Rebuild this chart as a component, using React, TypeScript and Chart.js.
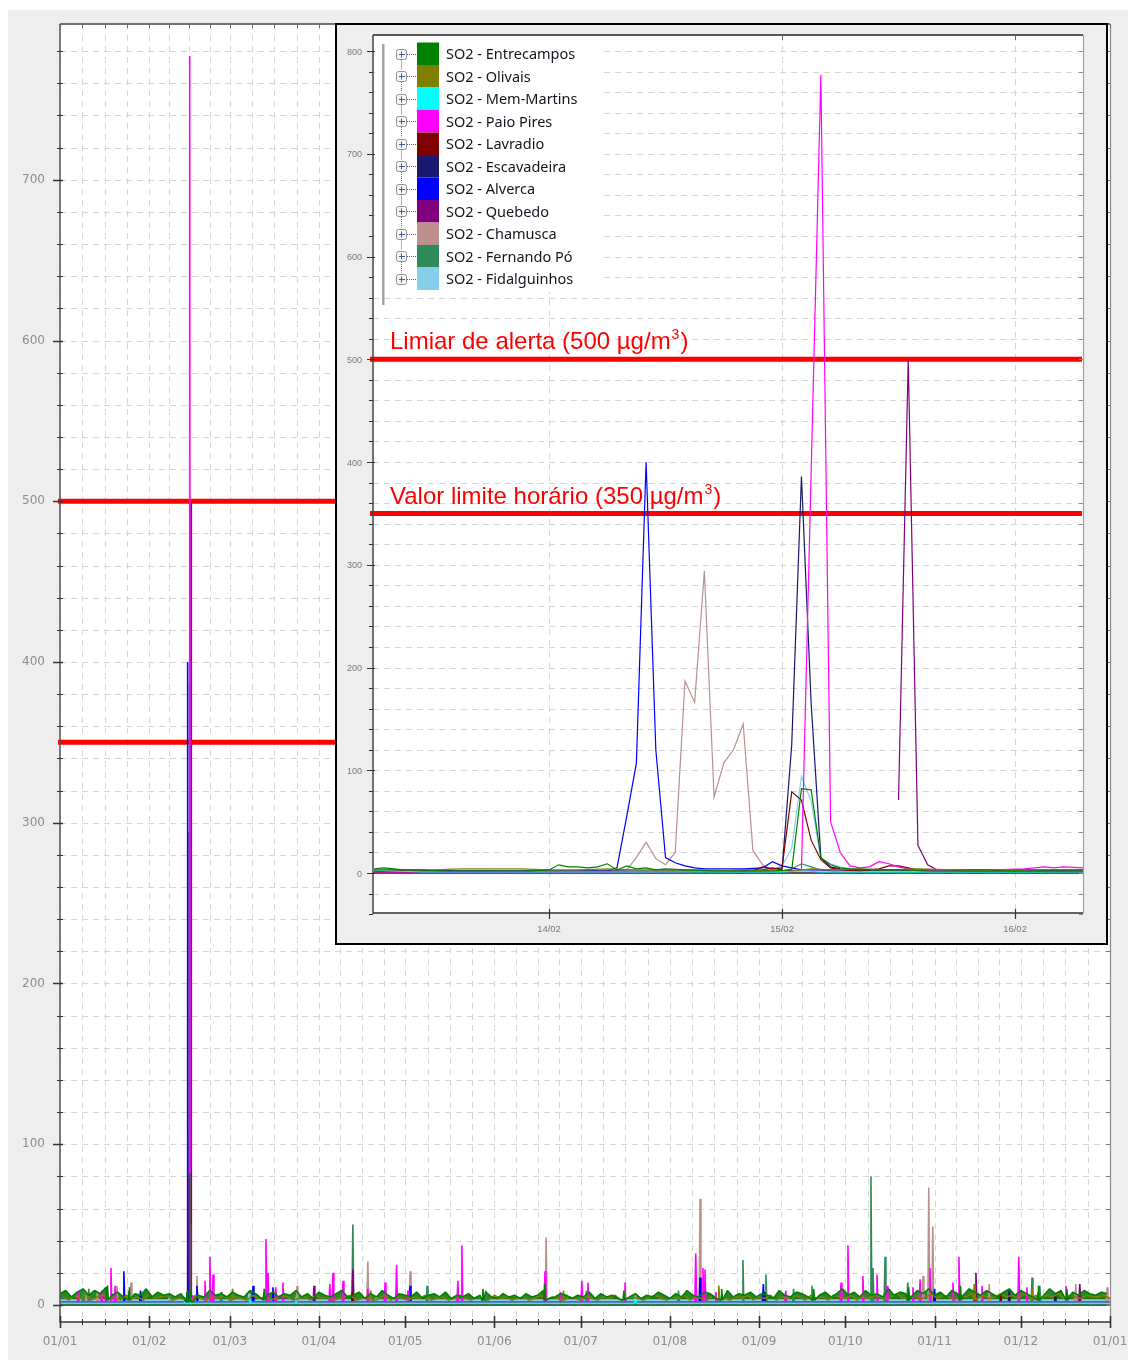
import { useEffect, useRef } from 'react';
import { Chart, registerables } from 'chart.js';

Chart.register(...registerables);

type Pt = [number, number];

// ---------------------------------------------------------------------------
// Stations
// ---------------------------------------------------------------------------
const STATION_NAMES = [
  'SO2 - Entrecampos',
  'SO2 - Olivais',
  'SO2 - Mem-Martins',
  'SO2 - Paio Pires',
  'SO2 - Lavradio',
  'SO2 - Escavadeira',
  'SO2 - Alverca',
  'SO2 - Quebedo',
  'SO2 - Chamusca',
  'SO2 - Fernando Pó',
  'SO2 - Fidalguinhos',
];
const STATION_COLORS = [
  '#008000', '#808000', '#00ffff', '#ff00ff', '#800000', '#191970',
  '#0000ff', '#800080', '#bc8f8f', '#2e8b57', '#87ceeb',
];

// ---------------------------------------------------------------------------
// Axes
// ---------------------------------------------------------------------------
// Year view: x = days since 1 January
const MONTH_START_DAYS = [0, 31, 59, 90, 120, 151, 181, 212, 243, 273, 304, 334, 365];
const MONTH_LABELS = ['01/01', '01/02', '01/03', '01/04', '01/05', '01/06', '01/07', '01/08', '01/09', '01/10', '01/11', '01/12', '01/01'];
const YEAR_Y_LABELS = [0, 100, 200, 300, 400, 500, 600, 700];

// Detail view: x = hours since 13/02 00:00
const DETAIL_FIRST_DAY = 43; // 13 February as day of year
const DAY_TICK_HOURS = [24, 48, 72];
const DAY_TICK_LABELS = ['14/02', '15/02', '16/02'];
const DETAIL_Y_LABELS = [0, 100, 200, 300, 400, 500, 600, 700, 800];

// Regulatory thresholds (µg/m³)
const ALERT_THRESHOLD = 500;
const HOURLY_LIMIT = 350;

// ---------------------------------------------------------------------------
// Hourly values, 13/02 06h – 16/02 07h  ([hour, µg/m³])
// ---------------------------------------------------------------------------
const ENTRECAMPOS_HOURLY: Pt[] = [[6, 4], [7, 5], [8, 4], [9, 3], [11, 3], [13, 2], [16, 2], [19, 2], [22, 2], [24, 3], [25, 8], [26, 6], [27, 6], [28, 5], [29, 6], [30, 9], [31, 3], [32, 7], [33, 4], [34, 5], [35, 3], [36, 4], [38, 3], [41, 2], [44, 2], [47, 2], [49, 3], [50, 82], [51, 81], [52, 15], [53, 8], [54, 5], [55, 4], [57, 3], [60, 3], [63, 2], [67, 2], [71, 2], [75, 2], [79, 2]];
const OLIVAIS_HOURLY: Pt[] = [[6, 3], [9, 3], [12, 3], [15, 4], [18, 4], [21, 4], [24, 3], [27, 3], [30, 4], [33, 3], [36, 3], [40, 3], [44, 2], [47, 3], [49, 2], [51, 4], [53, 3], [56, 4], [59, 3], [62, 4], [66, 3], [70, 2], [74, 3], [79, 3]];
const MEM_MARTINS_HOURLY: Pt[] = [[6, 3], [8, 2], [11, 1], [20, 1], [30, 1], [40, 1], [48, 1], [50, 2], [52, 1], [79, 1]];
const PAIO_PIRES_HOURLY: Pt[] = [[6, 1], [20, 1], [35, 1], [45, 2], [48, 2], [50, 3], [51, 390], [52, 777], [53, 50], [54, 20], [55, 7], [56, 5], [57, 6], [58, 11], [59, 9], [60, 6], [61, 4], [62, 3], [66, 2], [70, 3], [73, 4], [75, 6], [76, 5], [77, 6], [79, 5]];
const LAVRADIO_HOURLY: Pt[] = [[6, 1], [20, 1], [40, 1], [45, 2], [46, 6], [47, 4], [48, 5], [49, 79], [50, 71], [51, 32], [52, 13], [53, 5], [54, 3], [56, 2], [58, 4], [59, 7], [60, 7], [61, 5], [62, 3], [66, 2], [79, 1]];
const ESCAVADEIRA_HOURLY: Pt[] = [[6, 2], [20, 2], [40, 2], [46, 3], [47, 5], [48, 3], [49, 125], [50, 386], [51, 165], [52, 15], [53, 6], [54, 4], [56, 3], [60, 3], [64, 2], [79, 2]];
const ALVERCA_HOURLY: Pt[] = [[6, 3], [8, 3], [10, 2], [20, 2], [30, 2], [31, 5], [32, 55], [33, 107], [34, 400], [35, 120], [36, 15], [37, 10], [38, 7], [39, 5], [40, 4], [44, 4], [46, 5], [47, 11], [48, 7], [49, 5], [50, 3], [60, 3], [70, 3], [79, 3]];
const QUEBEDO_HOURLY: Pt[] = [[60, 71], [61, 500], [62, 27], [63, 8], [64, 3], [66, 2], [70, 2], [79, 2]];
const CHAMUSCA_HOURLY: Pt[] = [[6, 2], [20, 2], [30, 2], [32, 3], [33, 15], [34, 30], [35, 14], [36, 8], [37, 20], [38, 187], [39, 166], [40, 294], [41, 74], [42, 107], [43, 120], [44, 145], [45, 22], [46, 8], [47, 3], [49, 2], [60, 2], [79, 2]];
const FERNANDO_PO_HOURLY: Pt[] = [[6, 2], [20, 1], [40, 1], [48, 2], [49, 4], [50, 9], [51, 6], [52, 3], [54, 1], [79, 1]];
const FIDALGUINHOS_HOURLY: Pt[] = [[6, 2], [20, 2], [40, 2], [47, 3], [48, 7], [49, 24], [50, 94], [51, 70], [52, 14], [53, 9], [54, 6], [55, 4], [60, 3], [79, 2]];

// ---------------------------------------------------------------------------
// Year view: short peaks ([day of year, µg/m³]) and typical background level
// ---------------------------------------------------------------------------
const ENTRECAMPOS_YEAR_PEAKS: Pt[] = [[16.5, 12], [24, 11], [71, 10], [147, 10], [168.5, 13], [196, 9], [230, 10], [262, 10], [295, 11], [313, 12], [340, 12], [350, 10]];
const OLIVAIS_YEAR_PEAKS: Pt[] = [[60, 10], [108, 9], [175, 9], [229, 12], [318, 13], [338, 10]];
const MEM_MARTINS_YEAR_PEAKS: Pt[] = [[66, 5], [82, 5], [200, 4]];
const PAIO_PIRES_YEAR_PEAKS: Pt[] = [[6.3, 8], [14.5, 9], [16, 11], [17.7, 23], [19.2, 12], [50.4, 15], [52.1, 30], [53.2, 19], [71.6, 41], [72.3, 20], [75, 11], [77.5, 14], [93.8, 13], [94.9, 20], [98.4, 15], [107, 10], [113, 14], [117, 25], [121, 9], [138.3, 15], [139.7, 37], [168.6, 21], [174, 8], [181.4, 15], [183.5, 14], [196.4, 14], [221, 32], [223.5, 23], [224.2, 22], [228, 8], [252.3, 9], [271.5, 14], [273.9, 37], [279.1, 18], [284, 19], [287.5, 12], [296.5, 11], [299, 16], [302.4, 23], [310.4, 14], [312.5, 30], [320.5, 12], [333.3, 30], [336.1, 11], [349.7, 12]];
const LAVRADIO_YEAR_PEAKS: Pt[] = [[101.5, 8], [318, 8], [327, 7]];
const ESCAVADEIRA_YEAR_PEAKS: Pt[] = [[245, 8], [318, 12], [330, 9], [346, 7]];
const ALVERCA_YEAR_PEAKS: Pt[] = [[22.2, 21], [28, 9], [47.6, 12], [67.1, 12], [74, 11], [121.7, 12], [222.5, 17], [244.5, 13], [304, 10]];
const QUEBEDO_YEAR_PEAKS: Pt[] = [[88.3, 12], [101.8, 22], [318.4, 20], [354.5, 13]];
const CHAMUSCA_YEAR_PEAKS: Pt[] = [[9, 9], [13, 8], [19.8, 12], [24.7, 14], [47.6, 18], [82.4, 12], [107, 27], [121.7, 21], [169, 42], [222.5, 66], [300, 18], [302, 73], [303.4, 49], [317.7, 13], [323, 13], [353.1, 13], [364, 11]];
const FERNANDO_PO_YEAR_PEAKS: Pt[] = [[8, 9], [10, 10], [56, 8], [101.8, 50], [127.6, 12], [148, 9], [183, 9], [215, 9], [237.4, 28], [245.4, 19], [255, 10], [261.4, 12], [281.9, 80], [282.6, 23], [286.8, 30], [294.7, 14], [337.9, 17], [340.6, 12]];
const FIDALGUINHOS_YEAR_PEAKS: Pt[] = [[38, 5], [65.7, 7], [110, 5], [200, 6], [320, 6]];

const YEAR_BASE_LEVELS = [3, 3, 1, 2, 1, 2, 2, 2, 2, 2, 3];

// Background readings every second day (Entrecampos from 1 Jan, Olivais from 2 Jan)
const ENTRECAMPOS_EVERY_2_DAYS = [
  7, 9, 5, 8, 10, 6, 9, 7, 11, 6,
  8, 5, 9, 7, 6, 10, 5, 8, 6, 7,
  5, 7, 4, 8, 6, 5, 9, 6, 7, 5,
  8, 6, 5, 9, 7, 4, 6, 8, 5, 7,
  6, 9, 5, 7, 4, 8, 6, 5, 7, 9,
  5, 6, 8, 4, 7, 5, 9, 6, 4, 7,
  6, 5, 8, 4, 6, 7, 5, 8, 4, 6,
  5, 7, 4, 6, 8, 5, 4, 7, 5, 6,
  4, 7, 5, 6, 9, 4, 5, 7, 6, 4,
  6, 5, 8, 4, 7, 5, 6, 4, 8, 5,
  7, 4, 6, 5, 8, 6, 4, 7, 5, 9,
  6, 5, 8, 7, 4, 6, 9, 5, 7, 6,
  8, 5, 7, 6, 4, 9, 6, 5, 8, 7,
  5, 9, 6, 8, 5, 7, 10, 6, 8, 5,
  9, 6, 7, 5, 10, 6, 8, 7, 5, 9,
  7, 10, 6, 8, 5, 9, 7, 6, 10, 8,
  6, 9, 7, 5, 8, 10, 6, 9, 7, 5,
  8, 6, 10, 7, 9, 5, 8, 6, 9, 7,
  6, 8, 7,
];
const OLIVAIS_EVERY_2_DAYS = [
  5, 3, 6, 4, 7, 3, 5, 6, 4, 5,
  3, 6, 4, 5, 3, 7, 4, 5, 6, 3,
  4, 5, 3, 6, 4, 3, 5, 4, 6, 3,
  5, 4, 3, 6, 4, 5, 3, 4, 6, 5,
  3, 4, 5, 3, 6, 4, 5, 3, 4, 5,
  6, 3, 4, 5, 3, 4, 6, 3, 5, 4,
  3, 5, 4, 6, 3, 4, 5, 3, 4, 6,
  4, 3, 5, 4, 3, 6, 4, 5, 3, 4,
  5, 3, 4, 6, 3, 5, 4, 3, 5, 4,
  3, 6, 4, 3, 5, 4, 6, 3, 4, 5,
  4, 3, 5, 6, 4, 3, 5, 4, 6, 3,
  5, 4, 3, 6, 5, 4, 3, 5, 4, 6,
  3, 5, 4, 6, 3, 5, 4, 6, 5, 3,
  6, 4, 5, 3, 6, 5, 4, 6, 3, 5,
  4, 6, 5, 3, 5, 7, 4, 5, 6, 4,
  5, 7, 4, 6, 5, 3, 6, 5, 7, 4,
  6, 4, 5, 7, 5, 6, 4, 7, 5, 6,
  4, 6, 5, 7, 4, 6, 5, 4, 6, 5,
  5, 6, 4,
];

const HOURLY_SERIES = [
  ENTRECAMPOS_HOURLY, OLIVAIS_HOURLY, MEM_MARTINS_HOURLY, PAIO_PIRES_HOURLY, LAVRADIO_HOURLY,
  ESCAVADEIRA_HOURLY, ALVERCA_HOURLY, QUEBEDO_HOURLY, CHAMUSCA_HOURLY, FERNANDO_PO_HOURLY, FIDALGUINHOS_HOURLY,
];
const YEAR_PEAKS = [
  ENTRECAMPOS_YEAR_PEAKS, OLIVAIS_YEAR_PEAKS, MEM_MARTINS_YEAR_PEAKS, PAIO_PIRES_YEAR_PEAKS, LAVRADIO_YEAR_PEAKS,
  ESCAVADEIRA_YEAR_PEAKS, ALVERCA_YEAR_PEAKS, QUEBEDO_YEAR_PEAKS, CHAMUSCA_YEAR_PEAKS, FERNANDO_PO_YEAR_PEAKS, FIDALGUINHOS_YEAR_PEAKS,
];

// ---------------------------------------------------------------------------
// Series assembly
// ---------------------------------------------------------------------------
const SPIKE_HALF_WIDTH = 0.3; // days

function sampled(values: number[], firstDay: number, step: number): Pt[] {
  return values.map((v, k) => [firstDay + k * step, v] as Pt);
}

function yearSeries(i: number): Pt[] {
  const base = YEAR_BASE_LEVELS[i];
  const detail: Pt[] = HOURLY_SERIES[i].map(([h, v]) => [DETAIL_FIRST_DAY + h / 24, v] as Pt);
  const lo = detail[0][0];
  const hi = detail[detail.length - 1][0];
  let background: Pt[];
  if (i === 0) background = sampled(ENTRECAMPOS_EVERY_2_DAYS, 0, 2);
  else if (i === 1) background = sampled(OLIVAIS_EVERY_2_DAYS, 1, 2);
  else background = [[0, base], [lo - 0.01, base], [hi + 0.01, base], [365, base]];
  background = background.filter(([d]) => d < lo || d > hi);
  const spikes: Pt[] = [];
  for (const [d, v] of YEAR_PEAKS[i]) {
    spikes.push([d - SPIKE_HALF_WIDTH, base], [d, v], [d + SPIKE_HALF_WIDTH, base]);
  }
  return [...background, ...spikes, ...detail].sort((a, b) => a[0] - b[0]);
}

function yearTickDays(): number[] {
  const out: number[] = [];
  for (let m = 0; m < 12; m++) {
    const s = MONTH_START_DAYS[m];
    const len = MONTH_START_DAYS[m + 1] - s;
    for (let q = 0; q < 4; q++) out.push(s + (len * q) / 4);
  }
  out.push(365);
  return out;
}

// ---------------------------------------------------------------------------
// Drawing helpers
// ---------------------------------------------------------------------------
function line(ctx: CanvasRenderingContext2D, x1: number, y1: number, x2: number, y2: number) {
  ctx.beginPath();
  ctx.moveTo(x1, y1);
  ctx.lineTo(x2, y2);
  ctx.stroke();
}
const crisp = (v: number) => Math.round(v) + 0.5;

function thresholdLabel(ctx: CanvasRenderingContext2D, x: number, baseline: number, text: string) {
  ctx.fillStyle = '#ff0000';
  ctx.textAlign = 'left';
  ctx.textBaseline = 'alphabetic';
  ctx.font = '24px "Liberation Sans", Arial, sans-serif';
  ctx.fillText(text, x, baseline);
  let cx = x + ctx.measureText(text).width + 1;
  ctx.font = '14px "Liberation Sans", Arial, sans-serif';
  ctx.fillText('3', cx, baseline - 10);
  cx += ctx.measureText('3').width + 1;
  ctx.font = '24px "Liberation Sans", Arial, sans-serif';
  ctx.fillText(')', cx, baseline);
}

// Year chart decorations
const yearDecor = {
  id: 'yearDecor',
  beforeDraw(chart: any) {
    const { ctx, chartArea: a } = chart;
    const xs = chart.scales.x;
    const ys = chart.scales.y;
    ctx.save();
    ctx.fillStyle = '#eeeeee';
    ctx.fillRect(0, 2, chart.width, chart.height - 2);
    ctx.fillStyle = '#ffffff';
    ctx.fillRect(a.left, a.top, a.right - a.left, a.bottom - a.top);
    ctx.strokeStyle = '#d6d6d6';
    ctx.lineWidth = 1;
    ctx.setLineDash([6, 5]);
    for (let v = 20; v <= 780; v += 20) {
      const py = crisp(ys.getPixelForValue(v));
      line(ctx, a.left, py, a.right, py);
    }
    for (const d of yearTickDays()) {
      const px = crisp(xs.getPixelForValue(d));
      line(ctx, px, a.top, px, a.bottom);
    }
    ctx.setLineDash([]);
    ctx.strokeStyle = '#222';
    ctx.lineWidth = 1.5;
    const zy = ys.getPixelForValue(0);
    line(ctx, a.left, zy, a.right, zy);
    ctx.strokeStyle = '#ff0000';
    ctx.lineWidth = 5;
    for (const t of [ALERT_THRESHOLD, HOURLY_LIMIT]) {
      const py = ys.getPixelForValue(t);
      line(ctx, a.left - 2, py, a.left + 290, py);
    }
    ctx.restore();
  },
  afterDraw(chart: any) {
    const { ctx, chartArea: a } = chart;
    const xs = chart.scales.x;
    const ys = chart.scales.y;
    ctx.save();
    ctx.lineWidth = 1.2;
    ctx.strokeStyle = '#8a8a8a';
    line(ctx, a.right + 0.5, a.top, a.right + 0.5, a.bottom);
    ctx.lineWidth = 1.5;
    ctx.strokeStyle = '#444';
    line(ctx, a.left, a.top, a.right, a.top);
    ctx.strokeStyle = '#555';
    line(ctx, a.left, a.top, a.left, a.bottom + 0.75);
    ctx.strokeStyle = '#333';
    line(ctx, a.left, a.bottom, a.right, a.bottom);

    for (let v = 0; v <= 780; v += 20) {
      const py = crisp(ys.getPixelForValue(v));
      const major = v % 100 === 0;
      ctx.strokeStyle = '#333';
      ctx.lineWidth = major ? 1.5 : 1;
      line(ctx, a.left - (major ? 7 : 3), py, a.left + 3, py);
      ctx.strokeStyle = '#777';
      ctx.lineWidth = 1;
      line(ctx, a.right - 4, py, a.right, py);
    }
    for (const d of yearTickDays()) {
      const px = crisp(xs.getPixelForValue(d));
      const major = MONTH_START_DAYS.includes(d);
      ctx.strokeStyle = '#333';
      ctx.lineWidth = major ? 1.6 : 1;
      line(ctx, px, a.bottom - (major ? 6 : 3), px, a.bottom + (major ? 6 : 3));
      ctx.strokeStyle = '#666';
      ctx.lineWidth = 1;
      line(ctx, px, a.top, px, a.top + 4);
    }

    ctx.fillStyle = '#8c8c8c';
    ctx.font = '12px "DejaVu Sans", sans-serif';
    ctx.textAlign = 'right';
    ctx.textBaseline = 'middle';
    for (const v of YEAR_Y_LABELS) ctx.fillText(String(v), a.left - 15, ys.getPixelForValue(v));
    ctx.textAlign = 'center';
    MONTH_START_DAYS.forEach((d, k) => ctx.fillText(MONTH_LABELS[k], xs.getPixelForValue(d), a.bottom + 20));
    ctx.restore();
  },
};

// Detail chart decorations
const detailDecor = {
  id: 'detailDecor',
  beforeDraw(chart: any) {
    const { ctx, chartArea: a } = chart;
    const xs = chart.scales.x;
    const ys = chart.scales.y;
    ctx.save();
    ctx.fillStyle = '#eeeeee';
    ctx.fillRect(0, 0, chart.width, chart.height);
    ctx.fillStyle = '#ffffff';
    ctx.fillRect(a.left, a.top, a.right - a.left, a.bottom - a.top);
    ctx.strokeStyle = '#d6d6d6';
    ctx.lineWidth = 1;
    ctx.setLineDash([6, 5]);
    for (let v = -20; v <= 800; v += 20) {
      const py = crisp(ys.getPixelForValue(v));
      line(ctx, a.left, py, a.right, py);
    }
    for (const h of DAY_TICK_HOURS) {
      const px = crisp(xs.getPixelForValue(h));
      line(ctx, px, a.top, px, a.bottom);
    }
    ctx.setLineDash([]);
    ctx.strokeStyle = '#222';
    ctx.lineWidth = 1.5;
    const zy = ys.getPixelForValue(0);
    line(ctx, a.left, zy, a.right, zy);

    ctx.strokeStyle = '#ff0000';
    ctx.lineWidth = 5;
    const alertY = ys.getPixelForValue(ALERT_THRESHOLD);
    const limitY = ys.getPixelForValue(HOURLY_LIMIT);
    line(ctx, a.left - 3, alertY, a.right - 1, alertY);
    line(ctx, a.left - 3, limitY, a.right - 1, limitY);
    thresholdLabel(ctx, a.left + 17, alertY - 10, `Limiar de alerta (${ALERT_THRESHOLD} µg/m`);
    thresholdLabel(ctx, a.left + 17, limitY - 9, `Valor limite horário (${HOURLY_LIMIT} µg/m`);
    ctx.restore();
  },
  afterDraw(chart: any) {
    const { ctx, chartArea: a } = chart;
    const xs = chart.scales.x;
    const ys = chart.scales.y;
    ctx.save();
    ctx.lineWidth = 1.2;
    ctx.strokeStyle = '#a0a0a0';
    line(ctx, a.right + 0.5, a.top, a.right + 0.5, a.bottom);
    ctx.lineWidth = 1.5;
    ctx.strokeStyle = '#222';
    line(ctx, a.left, a.top, a.right, a.top);
    ctx.strokeStyle = '#444';
    line(ctx, a.left, a.top, a.left, a.bottom + 0.75);
    ctx.strokeStyle = '#333';
    line(ctx, a.left, a.bottom, a.right, a.bottom);

    for (let v = -40; v <= 800; v += 20) {
      const py = crisp(ys.getPixelForValue(v));
      const major = v % 100 === 0;
      ctx.strokeStyle = '#333';
      ctx.lineWidth = 1;
      line(ctx, a.left - (major ? 6 : 4), py, a.left + (major ? 2 : 0), py);
      ctx.strokeStyle = '#888';
      line(ctx, a.right - 4, py, a.right, py);
    }
    for (const h of DAY_TICK_HOURS) {
      const px = crisp(xs.getPixelForValue(h));
      ctx.strokeStyle = '#333';
      ctx.lineWidth = 1.2;
      line(ctx, px, a.bottom - 4, px, a.bottom + 6);
      ctx.strokeStyle = '#666';
      ctx.lineWidth = 1;
      line(ctx, px, a.top, px, a.top + 5);
    }

    ctx.fillStyle = '#7a7a7a';
    ctx.font = '9px "Liberation Sans", Arial, sans-serif';
    ctx.textAlign = 'right';
    ctx.textBaseline = 'middle';
    for (const v of DETAIL_Y_LABELS) ctx.fillText(String(v), a.left - 11, ys.getPixelForValue(v) + 1);
    ctx.textAlign = 'center';
    ctx.font = '9.5px "Liberation Sans", Arial, sans-serif';
    DAY_TICK_HOURS.forEach((h, k) => ctx.fillText(DAY_TICK_LABELS[k], xs.getPixelForValue(h), a.bottom + 16));

    // Station legend (tree style)
    const lx = a.left;
    const ly = a.top;
    ctx.fillStyle = '#ffffff';
    ctx.fillRect(lx + 2, ly + 1, 225, 256);
    ctx.fillStyle = '#a4a4a4';
    ctx.fillRect(lx + 9, ly + 9, 2.5, 261);
    const rowH = 22.5;
    STATION_NAMES.forEach((name, i) => {
      const cy = ly + 18.5 + i * rowH;
      const bx = lx + 23;
      // dotted connectors
      ctx.strokeStyle = '#666';
      ctx.lineWidth = 1;
      ctx.setLineDash([1, 1]);
      line(ctx, bx + 11, Math.round(cy) + 0.5, bx + 20, Math.round(cy) + 0.5);
      if (i < STATION_NAMES.length - 1) line(ctx, bx + 5.5, cy + 6, bx + 5.5, cy + rowH - 6);
      ctx.setLineDash([]);
      // expander box
      ctx.fillStyle = '#f6f6f6';
      ctx.strokeStyle = '#8f8f8f';
      ctx.beginPath();
      ctx.roundRect(bx + 0.5, Math.round(cy) - 5 + 0.5, 10, 10, 2);
      ctx.fill();
      ctx.stroke();
      ctx.strokeStyle = '#3c5aa6';
      line(ctx, bx + 3, Math.round(cy) + 0.5, bx + 9, Math.round(cy) + 0.5);
      line(ctx, bx + 5.5, Math.round(cy) - 2.5, bx + 5.5, Math.round(cy) + 3.5);
      // colour swatch
      ctx.fillStyle = STATION_COLORS[i];
      ctx.fillRect(bx + 21, cy - 11, 22, rowH);
      // name
      ctx.fillStyle = '#14141e';
      ctx.font = '14.5px "Noto Sans", sans-serif';
      ctx.textAlign = 'left';
      ctx.textBaseline = 'alphabetic';
      ctx.fillText(name, bx + 50, cy + 5.5);
    });
    ctx.restore();
  },
};

// ---------------------------------------------------------------------------
// Component
// ---------------------------------------------------------------------------
const YEAR_FILLS = ['rgba(20,120,20,0.9)', 'rgba(128,128,0,0.85)'];

export default function App() {
  const yearRef = useRef<HTMLCanvasElement>(null);
  const detailRef = useRef<HTMLCanvasElement>(null);

  useEffect(() => {
    const yearChart = new Chart(yearRef.current!, {
      type: 'line',
      data: {
        datasets: STATION_NAMES.map((name, i) => ({
          label: name,
          data: yearSeries(i).map(([x, y]) => ({ x, y })),
          borderColor: STATION_COLORS[i],
          backgroundColor: i < 2 ? YEAR_FILLS[i] : STATION_COLORS[i],
          borderWidth: 1.6,
          borderJoinStyle: 'bevel',
          pointRadius: 0,
          tension: 0,
          fill: i < 2 ? 'origin' : false,
        })),
      },
      options: {
        animation: false,
        responsive: false,
        devicePixelRatio: 1,
        layout: { padding: { left: 52, top: 16, right: 18, bottom: 38 } },
        scales: {
          x: { type: 'linear', display: false, min: 0, max: 365 },
          y: { type: 'linear', display: false, min: -10.6, max: 796.9 },
        },
        plugins: {
          legend: { display: false },
          tooltip: { enabled: false },
          filler: { drawTime: 'beforeDatasetsDraw' },
        },
      } as any,
      plugins: [yearDecor],
    });

    const detailChart = new Chart(detailRef.current!, {
      type: 'line',
      data: {
        datasets: STATION_NAMES.map((name, i) => ({
          label: name,
          data: HOURLY_SERIES[i].map(([x, y]) => ({ x, y })),
          borderColor: STATION_COLORS[i],
          backgroundColor: STATION_COLORS[i],
          borderWidth: 1.2,
          pointRadius: 0,
          tension: 0,
          fill: false,
        })),
      },
      options: {
        animation: false,
        responsive: false,
        devicePixelRatio: 1,
        layout: { padding: { left: 36, top: 10, right: 23, bottom: 30 } },
        scales: {
          x: { type: 'linear', display: false, min: 5.87, max: 79 },
          y: { type: 'linear', display: false, min: -38.9, max: 815.6 },
        },
        plugins: {
          legend: { display: false },
          tooltip: { enabled: false },
        },
      } as any,
      plugins: [detailDecor],
    });

    return () => {
      yearChart.destroy();
      detailChart.destroy();
    };
  }, []);

  return (
    <div style={{ position: 'relative', width: 1120, height: 1352 }}>
      <canvas ref={yearRef} width={1120} height={1352} style={{ display: 'block', width: 1120, height: 1352 }} />
      <div
        style={{
          position: 'absolute',
          left: 327,
          top: 15,
          width: 773,
          height: 922,
          boxSizing: 'border-box',
          border: '2px solid #000',
          background: '#eeeeee',
        }}
      >
        <canvas ref={detailRef} width={769} height={918} style={{ display: 'block', width: 769, height: 918 }} />
      </div>
    </div>
  );
}
